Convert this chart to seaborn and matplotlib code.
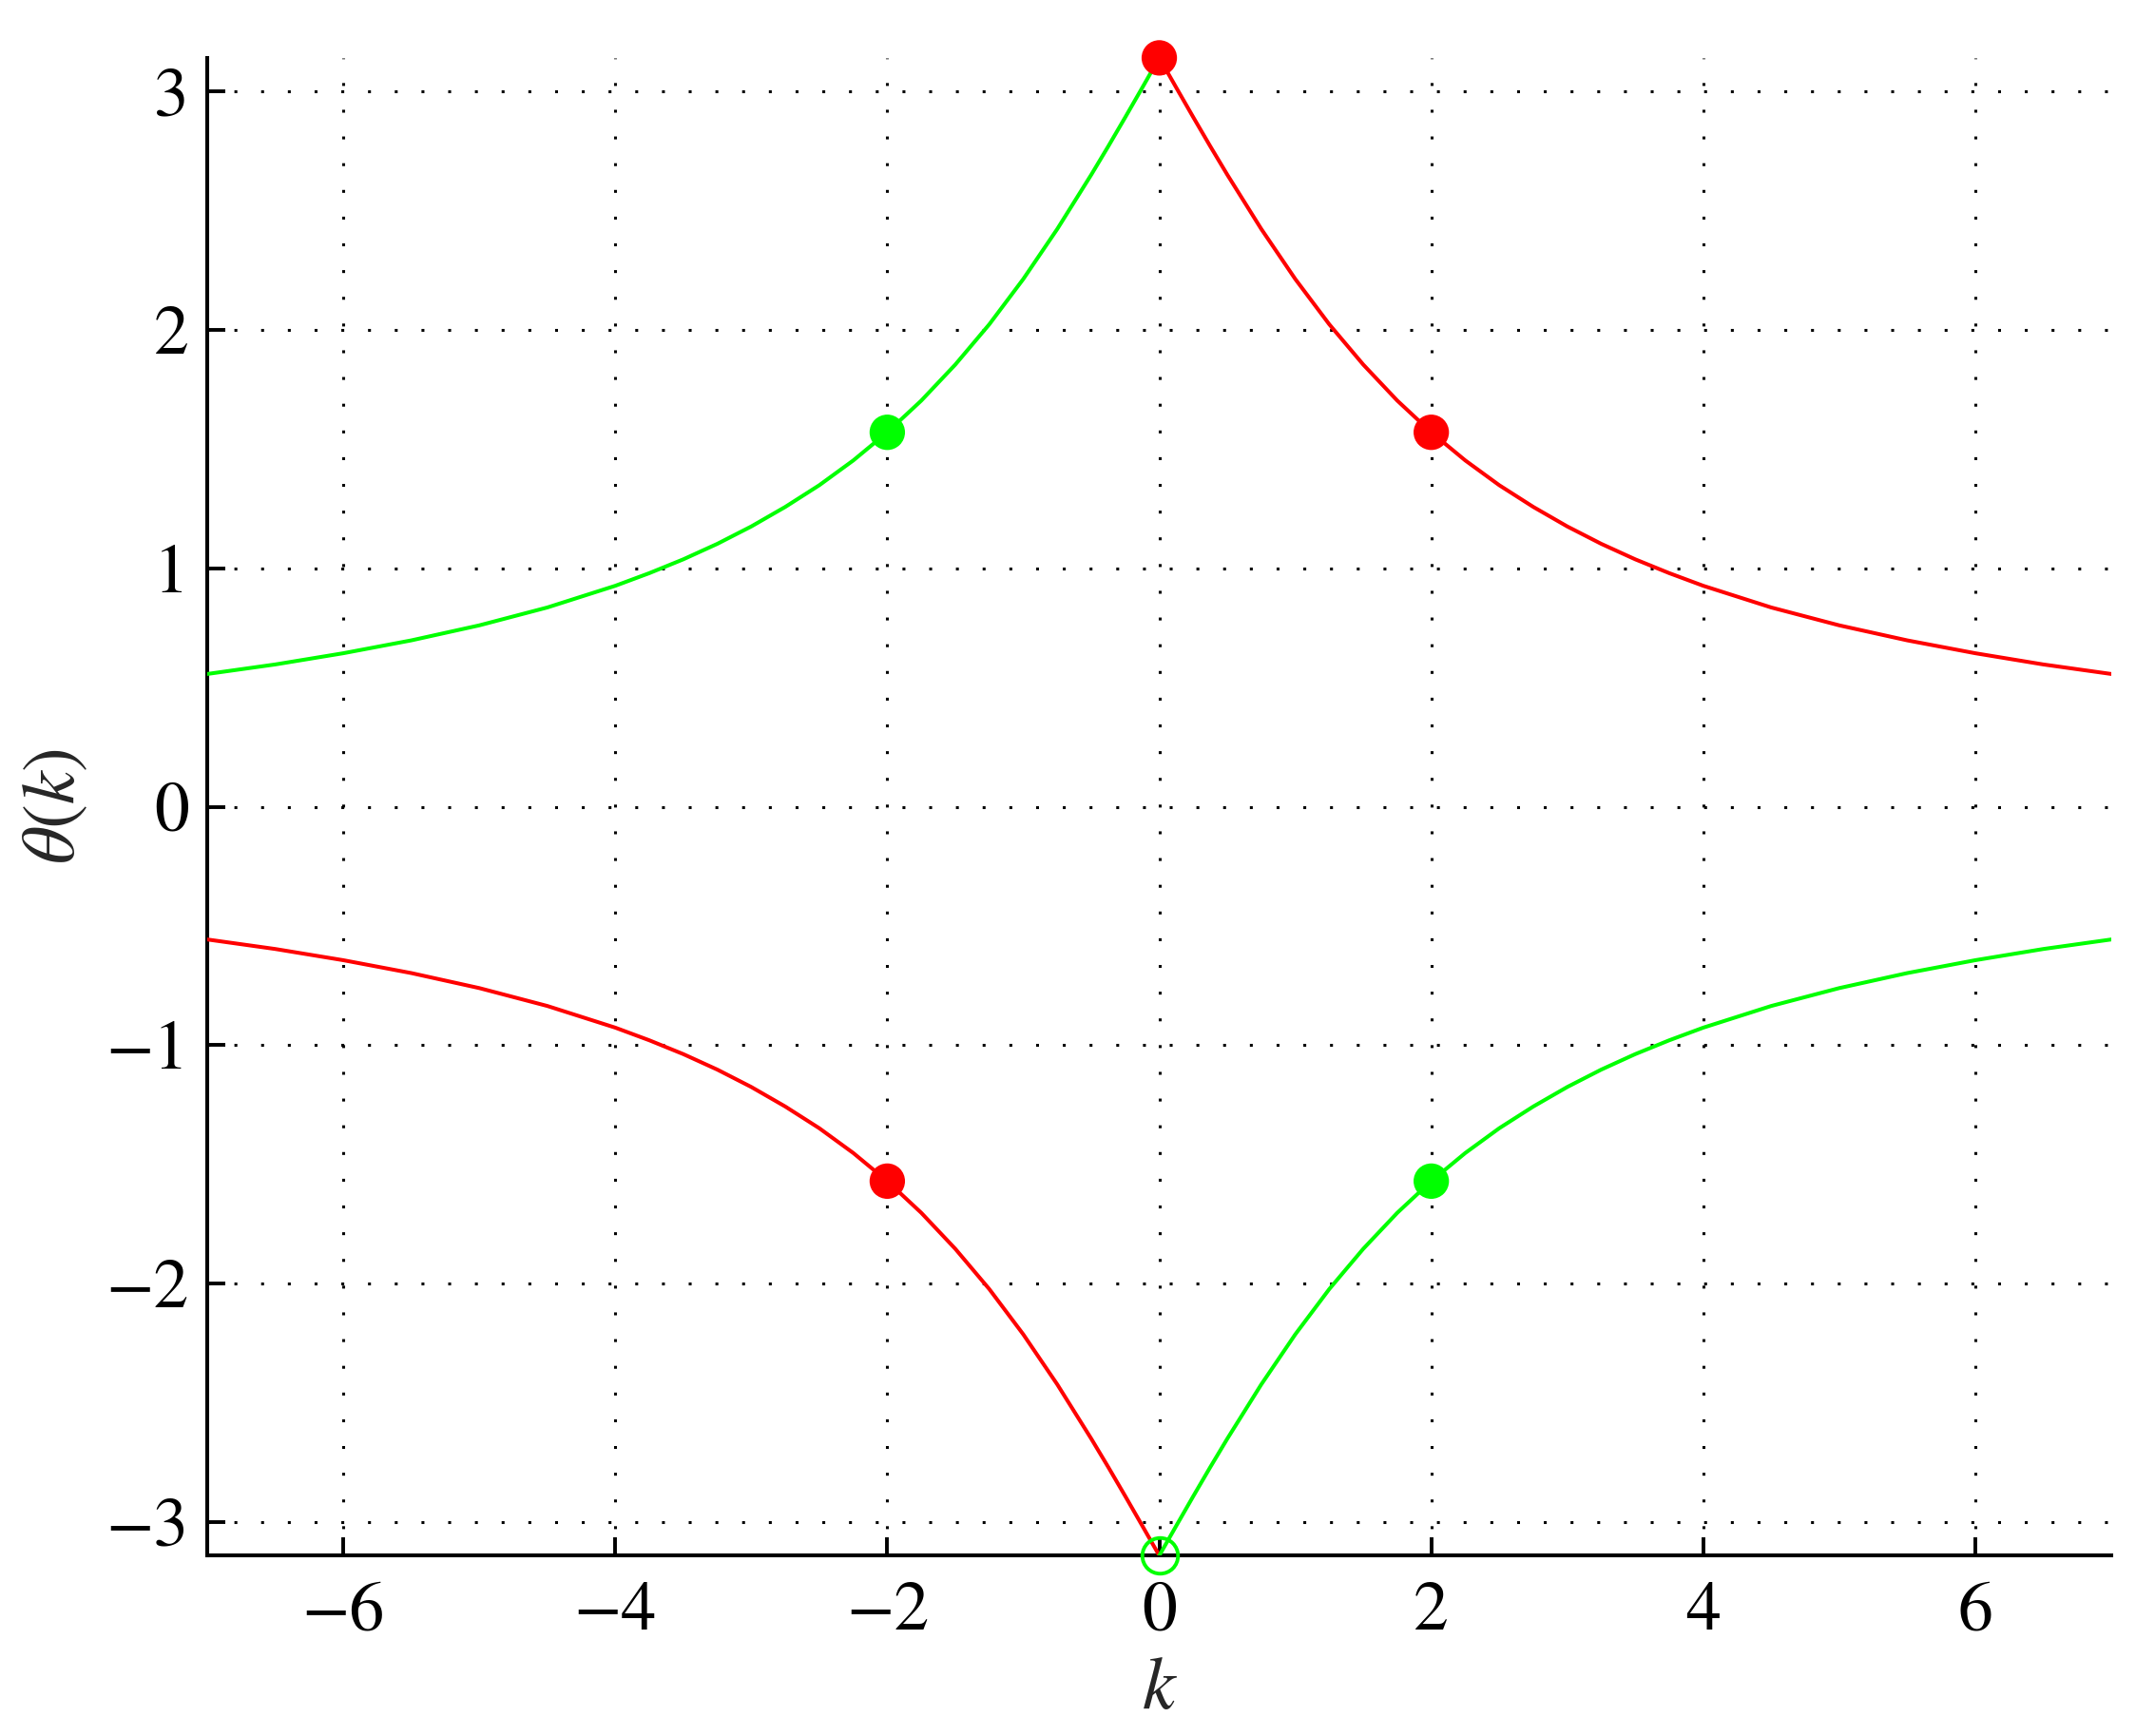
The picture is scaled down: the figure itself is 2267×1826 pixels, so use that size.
import numpy as np
import pandas as pd
import matplotlib
matplotlib.use("Agg")
import matplotlib.pyplot as plt
import seaborn as sns

# === values ===
k_pos = [0, 0.125, 0.25, 0.375, 0.5, 0.75, 1, 1.25, 1.5, 1.75, 2, 2.25, 2.5, 2.75,
         3, 3.25, 3.5, 3.75, 4, 4.5, 5, 5.5, 6, 6.5, 7]
theta_pos = [3.142, 3.017, 2.893, 2.771, 2.652, 2.424, 2.214, 2.024, 1.855, 1.704,
             1.571, 1.453, 1.349, 1.258, 1.176, 1.103, 1.038, 0.980, 0.927, 0.836,
             0.761, 0.698, 0.644, 0.597, 0.557]

# four branches: upper-left green, upper-right red, lower-left red, lower-right green
green_up_k = [-v for v in k_pos]
green_up_t = theta_pos
red_up_k = k_pos
red_up_t = theta_pos
red_lo_k = [-v for v in k_pos]
red_lo_t = [-v for v in theta_pos]
green_lo_k = k_pos
green_lo_t = [-v for v in theta_pos]

red_dots_k = [0, 2, -2]
red_dots_t = [3.142, 1.571, -1.571]
green_dots_k = [-2, 2]
green_dots_t = [1.571, -1.571]
open_k = [0]
open_t = [-3.142]

x_ticks = [-6, -4, -2, 0, 2, 4, 6]
y_ticks = [-3, -2, -1, 0, 1, 2, 3]

RED = (1, 0, 0)
GREEN = (0, 1, 0)

sns.set_style("ticks")
plt.rcParams["font.family"] = ["STIXGeneral", "DejaVu Serif"]
plt.rcParams["mathtext.fontset"] = "stix"

fig = plt.figure(figsize=(22.67, 18.26), dpi=100)
ax = fig.add_axes([0.0962, 0.104, 0.8835, 0.8626])

ax.grid(True, color="k", linestyle=(0, (1, 8.2)), linewidth=2.2)
ax.set_axisbelow(True)

branches = [
    (green_up_k, green_up_t, GREEN),
    (red_up_k, red_up_t, RED),
    (red_lo_k, red_lo_t, RED),
    (green_lo_k, green_lo_t, GREEN),
]
for kk, tt, col in branches:
    df = pd.DataFrame({"k": kk, "theta": tt})
    sns.lineplot(data=df, x="k", y="theta", color=col, linewidth=2.9, ax=ax,
                 sort=True, estimator=None, zorder=3)

sns.scatterplot(x=red_dots_k, y=red_dots_t, color=RED, s=720, edgecolor="none",
                ax=ax, zorder=4, clip_on=False)
sns.scatterplot(x=green_dots_k, y=green_dots_t, color=GREEN, s=720, edgecolor="none",
                ax=ax, zorder=4, clip_on=False)
ax.plot(open_k, open_t, "o", markersize=27, markerfacecolor="none",
        markeredgecolor=GREEN, markeredgewidth=2.8, zorder=5, clip_on=False)

ax.set_xlim(-7, 7)
ax.set_ylim(-np.pi, np.pi)
ax.set_xticks(x_ticks)
ax.set_yticks(y_ticks)
ax.set_xticklabels([f"{v}".replace("-", "\u2212") for v in x_ticks])
ax.set_yticklabels([f"{v}".replace("-", "\u2212") for v in y_ticks])

ax.tick_params(direction="in", length=14, width=2.8, labelsize=53, colors="k",
               top=False, right=False)
ax.tick_params(axis="x", pad=20)
ax.tick_params(axis="y", pad=14)

for side in ["top", "right"]:
    ax.spines[side].set_visible(False)
for side in ["left", "bottom"]:
    ax.spines[side].set_linewidth(2.9)
    ax.spines[side].set_color("k")

ax.set_xlabel("$k$", fontsize=56, labelpad=10)
ax.set_ylabel(r"$\theta(k)$", fontsize=56, labelpad=12)

fig.savefig("out.png", dpi=100, facecolor="white")
